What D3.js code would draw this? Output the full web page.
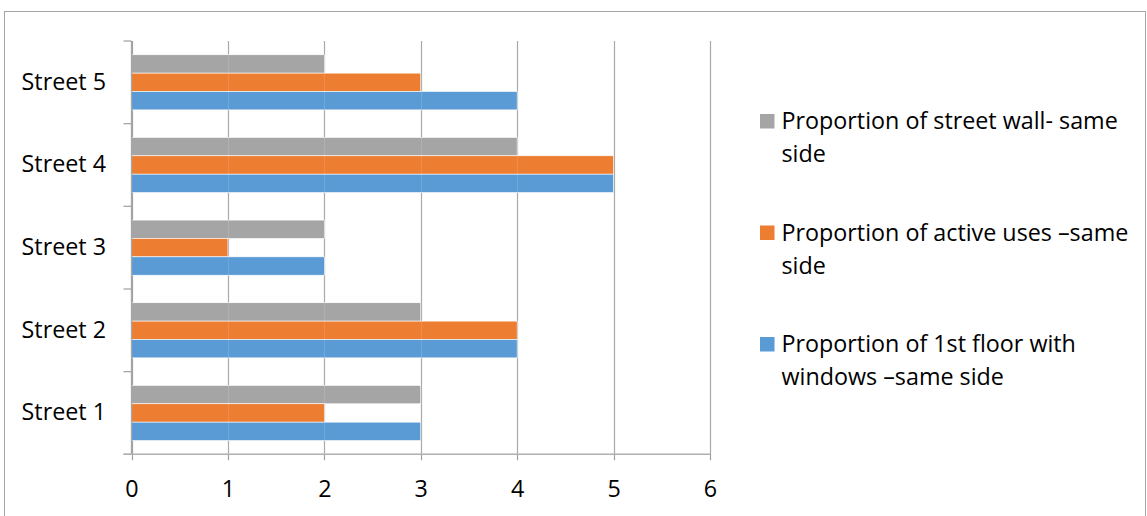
<!DOCTYPE html>
<html>
<head>
<meta charset="utf-8">
<script src="https://cdn.jsdelivr.net/npm/d3@7"></script>
<style>
  html, body { margin: 0; padding: 0; background: #fff; }
  svg { display: block; font-family: "Open Sans", Lato, sans-serif; font-variant-ligatures: none; }
</style>
</head>
<body>
<svg id="chart" width="1147" height="516"></svg>
<script>
// Streets, bottom to top as they appear on the axis
const categories = ["Street 1", "Street 2", "Street 3", "Street 4", "Street 5"];

// Series names (legend order, also top-to-bottom order within each group)
const seriesNames = [
  "Proportion of street wall- same side",
  "Proportion of active uses \u2013same side",
  "Proportion of 1st floor with windows \u2013same side"
];
const seriesColors = ["#A5A5A5", "#ED7D31", "#5B9BD5"];

// Values per street, same order as categories
const streetWall     = [3, 3, 2, 4, 2];
const activeUses     = [2, 4, 1, 5, 3];
const floorWindows   = [3, 4, 2, 5, 4];

const xTicks = [0, 1, 2, 3, 4, 5, 6];

// Legend text broken into lines
const legendLines = [
  ["Proportion of street wall- same", "side"],
  ["Proportion of active uses \u2013same", "side"],
  ["Proportion of 1st floor with", "windows \u2013same side"]
];

const seriesValues = [streetWall, activeUses, floorWindows];
const rows = categories.map((c, i) => ({
  cat: c,
  vals: seriesValues.map((s, k) => ({ key: k, value: s[i] }))
}));

const fontSize = 23.3;
const svg = d3.select("#chart");

// Outer chart frame
svg.append("rect")
  .attr("x", 4.5).attr("y", 11.5)
  .attr("width", 1141).attr("height", 600)
  .attr("fill", "none").attr("stroke", "#a6a6a6").attr("stroke-width", 1);

const plot = { left: 131.5, right: 710, top: 41, bottom: 454.3 };

const x = d3.scaleLinear().domain([0, 6]).range([plot.left, plot.right]);
const y = d3.scaleBand()
  .domain(categories.slice().reverse())
  .range([plot.top, plot.bottom])
  .paddingInner(0).paddingOuter(0);
const bw = y.bandwidth();
const yInner = d3.scaleBand()
  .domain(d3.range(seriesNames.length))
  .range([bw / 6, bw * 5 / 6]);

const gridColor = "#a0a0a0";

// Vertical gridlines (extend below axis as tick marks)
svg.append("g")
  .selectAll("line")
  .data(xTicks)
  .join("line")
  .attr("x1", d => Math.round(x(d)) + 0.5)
  .attr("x2", d => Math.round(x(d)) + 0.5)
  .attr("y1", plot.top)
  .attr("y2", plot.bottom + 6)
  .attr("stroke", gridColor)
  .attr("stroke-width", 1.2);

// Bars
const groups = svg.append("g")
  .selectAll("g")
  .data(rows)
  .join("g")
  .attr("transform", d => `translate(0,${y(d.cat)})`);

groups.selectAll("rect")
  .data(d => d.vals)
  .join("rect")
  .attr("x", x(0))
  .attr("y", d => yInner(d.key))
  .attr("width", d => x(d.value) - x(0))
  .attr("height", yInner.bandwidth())
  .attr("fill", d => seriesColors[d.key])
  .attr("stroke", "#fff")
  .attr("stroke-width", 0.6);

// Faint gridlines showing through the bars
svg.append("g")
  .selectAll("line")
  .data(xTicks.slice(1))
  .join("line")
  .attr("x1", d => Math.round(x(d)) + 0.5)
  .attr("x2", d => Math.round(x(d)) + 0.5)
  .attr("y1", plot.top)
  .attr("y2", plot.bottom)
  .attr("stroke", "#ffffff")
  .attr("stroke-opacity", 0.12)
  .attr("stroke-width", 1.2);

// Category axis: line and tick marks at band boundaries
const bounds = categories.map((c, i) => plot.top + i * bw).concat([plot.bottom]);
const yAxis = svg.append("g");
yAxis.append("line")
  .attr("x1", plot.left).attr("x2", plot.left)
  .attr("y1", plot.top).attr("y2", plot.bottom)
  .attr("stroke", "#a6a6a6").attr("stroke-width", 1.3);
yAxis.selectAll("line.tick")
  .data(bounds)
  .join("line")
  .attr("class", "tick")
  .attr("x1", plot.left - 8).attr("x2", plot.left)
  .attr("y1", d => d).attr("y2", d => d)
  .attr("stroke", "#a6a6a6").attr("stroke-width", 1.3);
yAxis.selectAll("text")
  .data(categories)
  .join("text")
  .attr("x", 106)
  .attr("y", d => y(d) + bw / 2 + 7.5)
  .attr("text-anchor", "end")
  .attr("font-size", fontSize)
  .attr("fill", "#000")
  .text(d => d);

// Value axis line and labels
svg.append("line")
  .attr("x1", plot.left - 8).attr("x2", plot.right)
  .attr("y1", plot.bottom).attr("y2", plot.bottom)
  .attr("stroke", "#b0b0b0").attr("stroke-width", 1.6);

const xAxis = svg.append("g")
  .attr("transform", `translate(0,${plot.bottom})`)
  .call(d3.axisBottom(x).tickValues(xTicks).tickSize(0).tickPadding(0).tickFormat(d3.format("d")));
xAxis.select(".domain").remove();
xAxis.selectAll("text")
  .attr("dy", null)
  .attr("y", 42.5)
  .attr("font-family", "'Open Sans', Lato, sans-serif")
  .attr("font-size", fontSize)
  .attr("fill", "#000");

// Legend
const legend = svg.append("g");
const entries = legend.selectAll("g")
  .data(legendLines)
  .join("g")
  .attr("transform", (d, i) => `translate(760,${129 + i * 111.5})`);
entries.append("rect")
  .attr("x", 0).attr("y", -15)
  .attr("width", 14.5).attr("height", 14.5)
  .attr("fill", (d, i) => seriesColors[i]);
entries.append("text")
  .attr("font-size", fontSize)
  .attr("fill", "#000")
  .selectAll("tspan")
  .data(d => d)
  .join("tspan")
  .attr("x", 21.5)
  .attr("y", (d, j) => j * 33)
  .text(d => d);
</script>
</body>
</html>
